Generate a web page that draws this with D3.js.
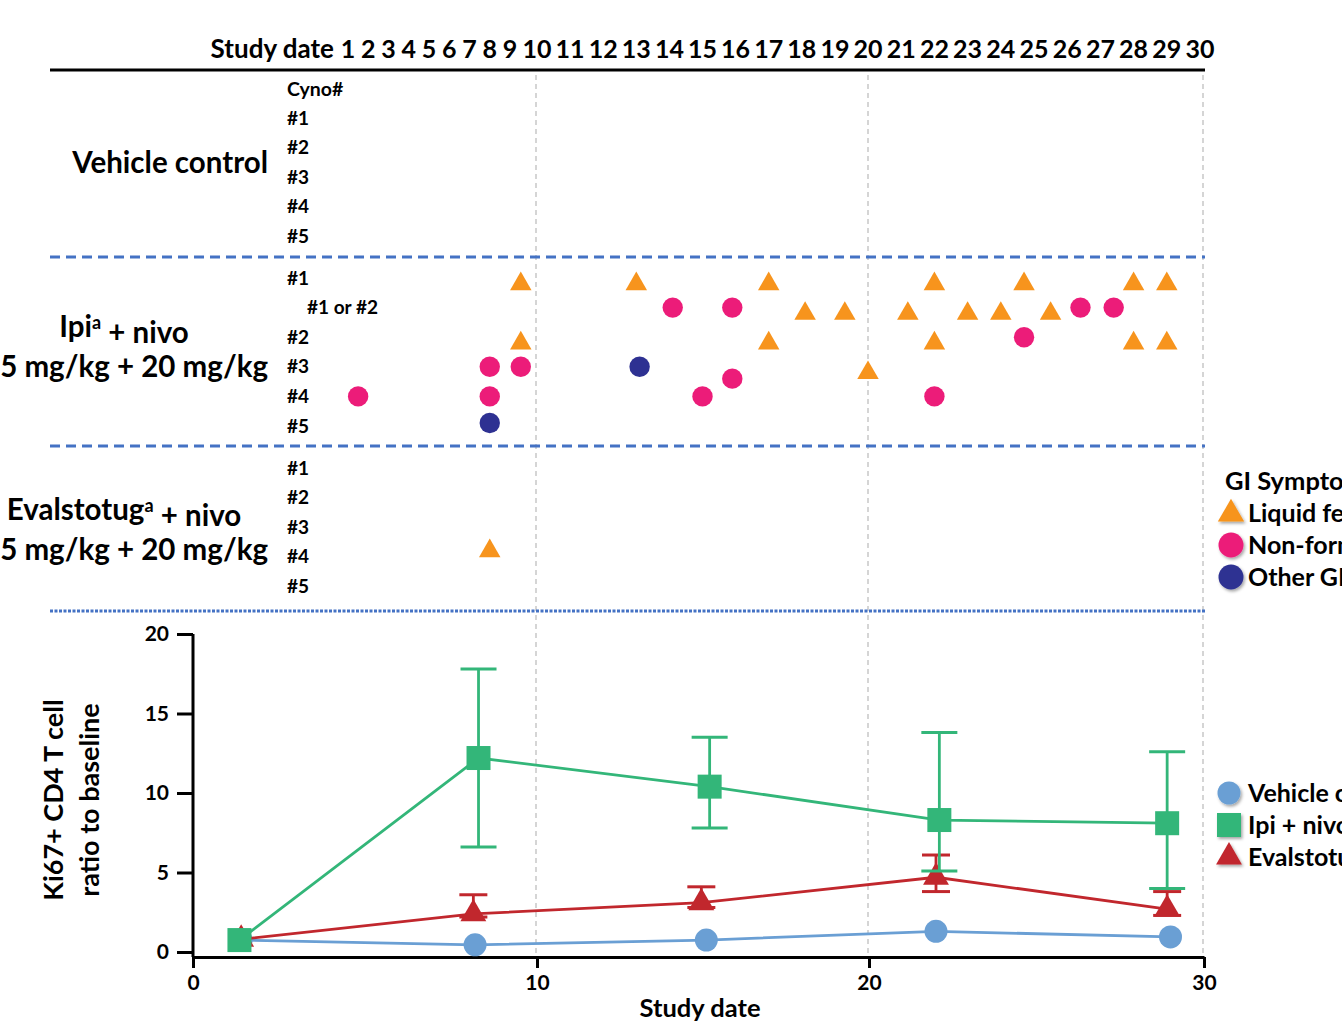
<!DOCTYPE html>
<meta charset="utf-8">
<script src="https://d3js.org/d3.v7.min.js"></script>
<style>
  body { margin: 0; background: #fff; }
  text { font-family: Lato, "Open Sans", sans-serif; font-weight: bold; fill: #000; }
</style>
<div id="chart"></div>
<script>
// ---------- data ----------
var studyDays = d3.range(1, 31);
var vehicleRows = ["#1", "#2", "#3", "#4", "#5"];
var ipiRows = ["#1", "#1 or #2", "#2", "#3", "#4", "#5"];
var evalRows = ["#1", "#2", "#3", "#4", "#5"];
var symptomNames = ["Liquid feces", "Non-formed feces", "Other GI symptoms"];

// GI events: [study day, row slot, symptom index]
var vehicleEvents = [];
var ipiEvents = [
  [9.4, 0, 0], [13, 0, 0], [17, 0, 0], [22, 0, 0], [24.7, 0, 0], [28, 0, 0], [29, 0, 0],
  [18.1, 1, 0], [19.3, 1, 0], [21.2, 1, 0], [23, 1, 0], [24, 1, 0], [25.5, 1, 0],
  [14.1, 1, 1], [15.9, 1, 1], [26.4, 1, 1], [27.4, 1, 1],
  [9.4, 2, 0], [17, 2, 0], [22, 2, 0], [28, 2, 0], [29, 2, 0],
  [24.7, 2, 1],
  [8, 3, 1], [9.4, 3, 1], [13.1, 3, 2], [20, 3, 0],
  [15.9, 3.4, 1],
  [1.5, 4, 1], [8, 4, 1], [15, 4, 1], [22, 4, 1],
  [8, 4.9, 2]
];
var evalEvents = [[8, 2.6, 0]];

// Ki67+ CD4 T cell ratio to baseline
var seriesNames = ["Vehicle control", "Ipi + nivo", "Evalstotug + nivo"];
var vehicleDays = [1.4, 8.2, 15.1, 22, 29];
var vehicleMean = [0.75, 0.45, 0.75, 1.3, 0.95];
var ipiDays = [1.35, 8.3, 15.2, 22.1, 28.9];
var ipiMean = [0.75, 12.2, 10.4, 8.3, 8.1];
var ipiLow = [null, 6.6, 7.8, 5.1, 4.0];
var ipiHigh = [null, 17.8, 13.5, 13.8, 12.6];
var evalDays = [1.4, 8.15, 14.95, 22, 28.9];
var evalMean = [0.8, 2.4, 3.1, 4.7, 2.7];
var evalLow = [null, 2.2, 2.8, 3.8, 2.3];
var evalHigh = [null, 3.6, 4.1, 6.1, 3.8];

var yTicks = [0, 5, 10, 15, 20];
var xTicks = [0, 10, 20, 30];

// ---------- setup ----------
var W = 1342, H = 1027;
var svg = d3.select("#chart").append("svg").attr("width", W).attr("height", H);

var symptomColors = ["#f7941d", "#ec1c79", "#2e3192"];
var seriesColors = ["#6a9fd4", "#33b679", "#c1272d"];
var sepColor = "#4472c4";

var topX = d3.scaleLinear().domain([1, 9, 10, 20, 30]).range([348, 510, 537, 868, 1200]);
var x = d3.scaleLinear().domain([0, 10, 20, 30]).range([193, 537, 869, 1204]);
var y = d3.scaleLinear().domain([0, 20]).range([952, 634]);

var defs = svg.append("defs");
defs.append("filter").attr("id", "shadow")
    .attr("x", "-50%").attr("y", "-50%").attr("width", "200%").attr("height", "200%")
  .append("feDropShadow")
    .attr("dx", 1.5).attr("dy", 2).attr("stdDeviation", 1.5)
    .attr("flood-color", "#000").attr("flood-opacity", 0.35);

// gray dashed verticals
svg.selectAll(".vgrid").data([10, 20, 30]).join("line")
  .attr("x1", d => x(d) - 1).attr("x2", d => x(d) - 1)
  .attr("y1", 75).attr("y2", 957)
  .attr("stroke", "#c8c8c8").attr("stroke-width", 1.5).attr("stroke-dasharray", "5,4");

// ---------- header ----------
svg.append("text").attr("x", 334).attr("y", 58).attr("text-anchor", "end")
  .style("font-size", "26px").text("Study date");
svg.selectAll(".day").data(studyDays).join("text")
  .attr("x", d => topX(d)).attr("y", 58).attr("text-anchor", "middle")
  .style("font-size", "25px").text(d => d);
svg.append("line").attr("x1", 50).attr("x2", 1205).attr("y1", 70).attr("y2", 70)
  .attr("stroke", "#000").attr("stroke-width", 3);

// ---------- symptom panel ----------
var rowStep = 29.6;
var triangle = d3.symbol().type(d3.symbolTriangle);

function drawSymptom(g, type, cx, cy, big) {
  if (type === 0) {
    g.append("path").attr("d", triangle.size(big ? 300 : 200)())
      .attr("transform", "translate(" + cx + "," + (cy + (big ? 0 : 6)) + ")")
      .attr("fill", symptomColors[0]);
  } else {
    g.append("circle").attr("cx", cx).attr("cy", cy).attr("r", big ? 12.5 : 10.2)
      .attr("fill", symptomColors[type]);
  }
}

function drawGroup(rows, top, events) {
  var g = svg.append("g");
  g.selectAll("text").data(rows).join("text")
    .attr("x", d => d === "#1 or #2" ? 307 : 287)
    .attr("y", (d, i) => top + i * rowStep)
    .attr("dy", "0.35em")
    .style("font-size", "19px").text(d => d);
  events.forEach(function(e) {
    drawSymptom(g, e[2], topX(e[0]), top + e[1] * rowStep, false);
  });
}

svg.append("text").attr("x", 287).attr("y", 89).attr("dy", "0.35em")
  .style("font-size", "19.5px").text("Cyno#");
drawGroup(vehicleRows, 118, vehicleEvents);
drawGroup(ipiRows, 278, ipiEvents);
drawGroup(evalRows, 468, evalEvents);

svg.append("text").attr("x", 268).attr("y", 163).attr("dy", "0.35em").attr("text-anchor", "end")
  .style("font-size", "29.5px").text("Vehicle control");

function groupLabel(name, y1, y2) {
  var t = svg.append("text").attr("x", 124).attr("y", y1).attr("dy", "0.35em")
    .attr("text-anchor", "middle").style("font-size", "29.5px");
  t.append("tspan").text(name);
  t.append("tspan").attr("dy", "-0.45em").style("font-size", "18px").text("a");
  t.append("tspan").attr("dy", "0.45em").text(" + nivo");
  svg.append("text").attr("x", 268).attr("y", y2).attr("dy", "0.35em").attr("text-anchor", "end")
    .style("font-size", "29.5px").text("5 mg/kg + 20 mg/kg");
}
groupLabel("Ipi", 327, 367);
groupLabel("Evalstotug", 510, 550);

// separators
[257, 446].forEach(function(yy) {
  svg.append("line").attr("x1", 50).attr("x2", 1205).attr("y1", yy).attr("y2", yy)
    .attr("stroke", sepColor).attr("stroke-width", 3).attr("stroke-dasharray", "10,6");
});
svg.append("line").attr("x1", 50).attr("x2", 1205).attr("y1", 611).attr("y2", 611)
  .attr("stroke", sepColor).attr("stroke-width", 3).attr("stroke-dasharray", "3,1.5");

// GI legend
svg.append("text").attr("x", 1225).attr("y", 481).attr("dy", "0.35em")
  .style("font-size", "25.5px").text("GI Symptoms");
symptomNames.forEach(function(name, i) {
  var cy = 513 + i * 32;
  var g = svg.append("g").attr("filter", "url(#shadow)");
  drawSymptom(g, i, 1231, cy + (i === 0 ? 1 : 0), true);
  svg.append("text").attr("x", 1248).attr("y", cy).attr("dy", "0.35em")
    .style("font-size", "25px").text(name);
});

// ---------- Ki67 chart ----------
var yAxis = svg.append("g").attr("transform", "translate(193,0)")
  .call(d3.axisLeft(y).tickValues(yTicks).tickSize(16).tickSizeOuter(0).tickPadding(8));
var xAxis = svg.append("g").attr("transform", "translate(0,957)")
  .call(d3.axisBottom(x).tickValues(xTicks).tickSize(11).tickSizeOuter(0).tickPadding(7));
[yAxis, xAxis].forEach(function(a) {
  a.select(".domain").attr("stroke", "#000").attr("stroke-width", 3);
  a.selectAll(".tick line").attr("stroke", "#000").attr("stroke-width", 3);
  a.selectAll(".tick text").style("font-size", "21px").style("font-family", "Lato, sans-serif")
    .style("font-weight", "bold").attr("fill", "#000");
});
yAxis.select(".domain").attr("d", "M0," + y(20) + "V957");

svg.append("text").attr("x", 700).attr("y", 1008).attr("dy", "0.35em").attr("text-anchor", "middle")
  .style("font-size", "25.5px").text("Study date");
var yt = svg.append("text").attr("transform", "translate(54,800) rotate(-90)")
  .attr("text-anchor", "middle").style("font-size", "27px");
yt.append("tspan").attr("x", 0).attr("dy", "0.35em").text("Ki67+ CD4 T cell");
yt.append("tspan").attr("x", 0).attr("dy", "1.3em").text("ratio to baseline");

var series = [
  {days: vehicleDays, mean: vehicleMean, low: null, high: null, color: seriesColors[0], shape: "circle", cap: 0},
  {days: evalDays, mean: evalMean, low: evalLow, high: evalHigh, color: seriesColors[2], shape: "triangle", cap: 28},
  {days: ipiDays, mean: ipiMean, low: ipiLow, high: ipiHigh, color: seriesColors[1], shape: "square", cap: 36}
];

var line = d3.line().x(d => x(d.day)).y(d => y(d.v));

function drawMarker(g, shape, color, cx, cy) {
  if (shape === "circle") {
    g.append("circle").attr("cx", cx).attr("cy", cy).attr("r", 11.5).attr("fill", color);
  } else if (shape === "square") {
    g.append("rect").attr("x", cx - 12).attr("y", cy - 12).attr("width", 24).attr("height", 24).attr("fill", color);
  } else {
    g.append("path").attr("d", triangle.size(290)())
      .attr("transform", "translate(" + cx + "," + cy + ")").attr("fill", color);
  }
}

series.forEach(function(s) {
  var pts = s.days.map((d, i) => ({day: d, v: s.mean[i], lo: s.low ? s.low[i] : null, hi: s.high ? s.high[i] : null}));
  var g = svg.append("g");
  g.append("path").datum(pts).attr("d", line)
    .attr("fill", "none").attr("stroke", s.color).attr("stroke-width", 2.8);
  pts.filter(p => p.lo != null).forEach(function(p) {
    var cx = x(p.day);
    g.append("line").attr("x1", cx).attr("x2", cx).attr("y1", y(p.lo)).attr("y2", y(p.hi))
      .attr("stroke", s.color).attr("stroke-width", 2.8);
    [p.lo, p.hi].forEach(function(v) {
      g.append("line").attr("x1", cx - s.cap / 2).attr("x2", cx + s.cap / 2)
        .attr("y1", y(v)).attr("y2", y(v)).attr("stroke", s.color).attr("stroke-width", 3);
    });
  });
  pts.forEach(function(p) { drawMarker(g, s.shape, s.color, x(p.day), y(p.v)); });
});

// series legend
var legendShapes = ["circle", "square", "triangle"];
seriesNames.forEach(function(name, i) {
  var cy = 793 + i * 32;
  var g = svg.append("g").attr("filter", "url(#shadow)");
  drawMarker(g, legendShapes[i], seriesColors[i], 1229, cy);
  svg.append("text").attr("x", 1248).attr("y", cy).attr("dy", "0.35em")
    .style("font-size", "25px").text(name);
});
</script>
